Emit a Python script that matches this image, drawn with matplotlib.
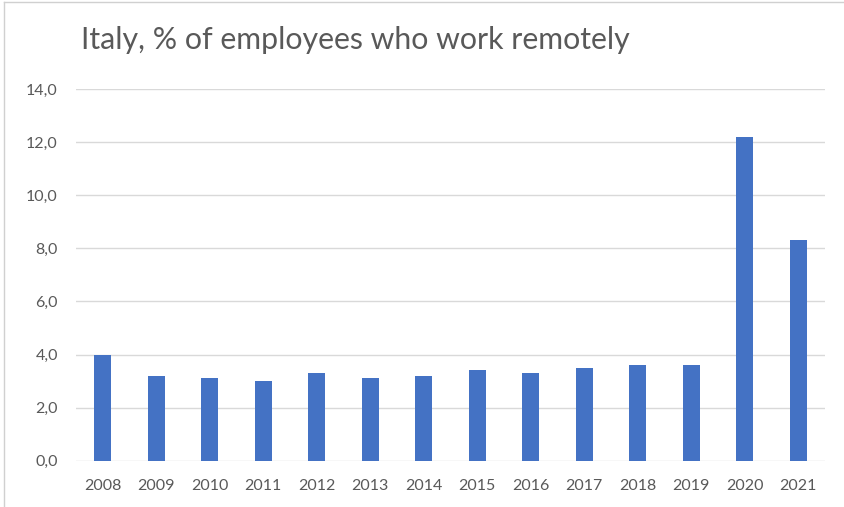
import matplotlib.pyplot as plt
from matplotlib.lines import Line2D
from matplotlib.ticker import FuncFormatter

# Share of employees working remotely in Italy
years = ['2008', '2009', '2010', '2011', '2012', '2013', '2014',
         '2015', '2016', '2017', '2018', '2019', '2020', '2021']
remote_pct = [4.0, 3.2, 3.1, 3.0, 3.3, 3.1, 3.2,
              3.4, 3.3, 3.5, 3.6, 3.6, 12.2, 8.3]
y_ticks = [0, 2, 4, 6, 8, 10, 12, 14]

plt.rcParams['font.family'] = ['Lato', 'DejaVu Sans']
text_grey = '#595959'

fig = plt.figure(figsize=(8.45, 5.07), dpi=100)
ax = fig.add_axes([0.0899, 0.0913, 0.8864, 0.7332])

ax.bar(range(len(years)), remote_pct, width=0.32, color='#4472c4', zorder=3)

ax.set_xlim(-0.5, len(years) - 0.5)
ax.set_ylim(0, 14)
ax.set_yticks(y_ticks)
ax.yaxis.set_major_formatter(FuncFormatter(lambda v, p: f'{v:.1f}'.replace('.', ',')))
ax.set_xticks(range(len(years)))
ax.set_xticklabels(years)

ax.grid(axis='y', color='#d9d9d9', linewidth=1, zorder=0)
for s in ax.spines.values():
    s.set_visible(False)
ax.tick_params(axis='both', length=0, colors=text_grey, labelsize=11.5)
ax.tick_params(axis='y', pad=13)
ax.tick_params(axis='x', pad=13)

fig.text(0.096, 0.903, 'Italy, % of employees who work remotely',
         fontsize=21.8, color=text_grey, va='baseline', ha='left')

# light chart frame along the top and left edges
fig.add_artist(Line2D([0.005, 1], [0.996, 0.996], color='#d0d0d0', linewidth=1))
fig.add_artist(Line2D([0.005, 0.005], [0, 0.996], color='#d0d0d0', linewidth=1))

fig.savefig('out.png', dpi=100)
